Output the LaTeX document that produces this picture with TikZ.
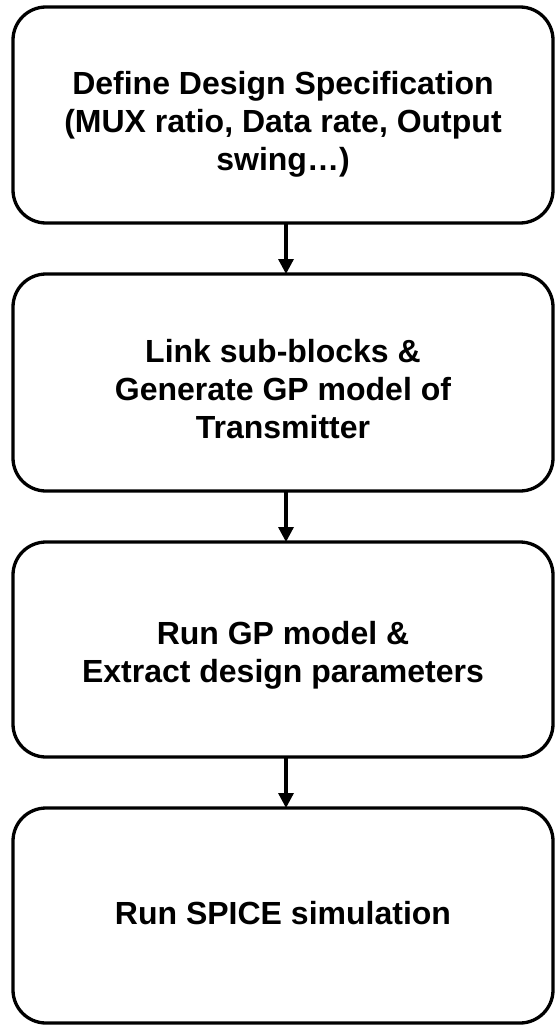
\documentclass[tikz,border=0pt]{standalone}
\usepackage{fontspec}
\setmainfont{Liberation Sans}
\usetikzlibrary{arrows.meta}
\begin{document}
\begin{tikzpicture}[x=1pt,y=1pt,
  stepbox/.style={draw=black, line width=3.3pt, rounded corners=33pt, rectangle,
    minimum width=540pt, inner sep=0pt, outer sep=0pt, fill=none},
  steptext/.style={font=\fontsize{32}{38}\selectfont\bfseries, align=center, inner sep=0pt},
  flow/.style={line width=3.3pt, -{Triangle[width=15pt,length=15pt]}}
]
\useasboundingbox (0,0) rectangle (555,-1025);
\node[stepbox, minimum height=216pt] (b1) at (283,-115) {};
\node[stepbox, minimum height=217pt] (b2) at (283,-382.5) {};
\node[stepbox, minimum height=215pt] (b3) at (283,-649.5) {};
\node[stepbox, minimum height=215pt] (b4) at (283,-915.5) {};
\node[steptext] (t1) at (283,-124.5) {Define Design Specification\\(MUX ratio, Data rate, Output\\swing…)};
\node[steptext] (t2) at (283,-389) {Link sub-blocks \&\\Generate GP model of\\Transmitter};
\node[steptext] (t3) at (283,-655.5) {Run GP model \&\\Extract design parameters};
\node[steptext] (t4) at (283,-913.5) {Run SPICE simulation};
\draw[flow] ([xshift=3pt]b1.south) -- ([xshift=3pt]b2.north);
\draw[flow] ([xshift=3pt]b2.south) -- ([xshift=3pt]b3.north);
\draw[flow] ([xshift=3pt]b3.south) -- ([xshift=3pt]b4.north);
\end{tikzpicture}
\end{document}
